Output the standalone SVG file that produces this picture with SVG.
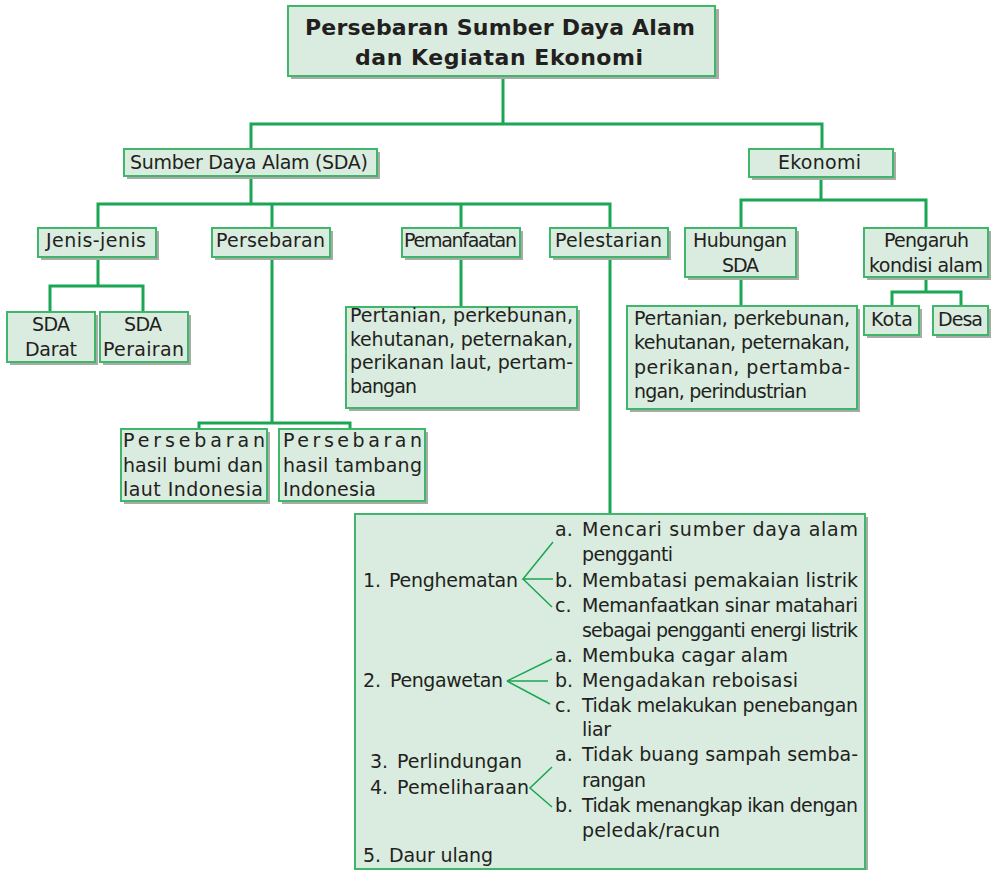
<svg xmlns="http://www.w3.org/2000/svg" width="992" height="870" viewBox="0 0 992 870">
<style>
.sh{fill:#a9aba9}
.bx{fill:#d9ecdf;stroke:#3fb669;stroke-width:2}
.t{font-family:"DejaVu Sans",sans-serif;font-size:19px;fill:#231f20}
.tt{font-family:"DejaVu Sans",sans-serif;font-size:22px;font-weight:bold;fill:#231f20}
.c{fill:none;stroke:#1aa652;stroke-width:3}
.br{fill:none;stroke:#1aa652;stroke-width:1.5}
</style>
<rect width="992" height="870" fill="#ffffff"/>
<g id="connectors">
<path class="c" d="M503 76V124M251 149V124H822V149"/>
<path class="c" d="M251 176V204M98 228V204H610V228M272 204V228M461 204V228"/>
<path class="c" d="M98 257V286M50 312V286H143V312"/>
<path class="c" d="M272 257V423M199 429V423H350V429"/>
<path class="c" d="M461 257V307"/>
<path class="c" d="M610 257V514"/>
<path class="c" d="M821 177V200M741 228V200H926V228"/>
<path class="c" d="M741 277V306"/>
<path class="c" d="M926 277V292M892 306V292H961V306"/>
</g>
<g id="title">
<rect class="sh" x="291" y="9" width="428" height="70"/>
<rect class="bx" x="288" y="6" width="427" height="70"/>
<text class="tt" x="305" y="35" textLength="390" lengthAdjust="spacing">Persebaran Sumber Daya Alam</text>
<text class="tt" x="355" y="65" textLength="288" lengthAdjust="spacing">dan Kegiatan Ekonomi</text>
</g>
<g id="sda">
<rect class="sh" x="127" y="152" width="253" height="27"/>
<rect class="bx" x="124" y="149" width="253" height="27"/>
<text class="t" x="130" y="169" textLength="238" lengthAdjust="spacing">Sumber Daya Alam (SDA)</text>
</g>
<g id="ekonomi">
<rect class="sh" x="752" y="152" width="144" height="28"/>
<rect class="bx" x="749" y="149" width="144" height="28"/>
<text class="t" x="778" y="169" textLength="83" lengthAdjust="spacing">Ekonomi</text>
</g>
<g id="jenis">
<rect class="sh" x="41" y="231" width="118" height="29"/>
<rect class="bx" x="38" y="228" width="118" height="29"/>
<text class="t" x="46" y="247" textLength="100" lengthAdjust="spacing">Jenis-jenis</text>
</g>
<g id="persebaran">
<rect class="sh" x="215" y="231" width="118" height="29"/>
<rect class="bx" x="212" y="228" width="118" height="29"/>
<text class="t" x="216" y="247" textLength="109" lengthAdjust="spacing">Persebaran</text>
</g>
<g id="pemanfaatan">
<rect class="sh" x="405" y="231" width="118" height="29"/>
<rect class="bx" x="402" y="228" width="118" height="29"/>
<text class="t" x="404" y="247" textLength="113" lengthAdjust="spacing">Pemanfaatan</text>
</g>
<g id="pelestarian">
<rect class="sh" x="553" y="231" width="118" height="29"/>
<rect class="bx" x="550" y="228" width="118" height="29"/>
<text class="t" x="555" y="247" textLength="107" lengthAdjust="spacing">Pelestarian</text>
</g>
<g id="hubungan">
<rect class="sh" x="688" y="231" width="111" height="49"/>
<rect class="bx" x="685" y="228" width="111" height="49"/>
<text class="t" x="693" y="247" textLength="94" lengthAdjust="spacing">Hubungan</text>
<text class="t" x="722" y="272" textLength="37" lengthAdjust="spacing">SDA</text>
</g>
<g id="pengaruh">
<rect class="sh" x="867" y="231" width="124" height="49"/>
<rect class="bx" x="864" y="228" width="124" height="49"/>
<text class="t" x="884" y="247" textLength="85" lengthAdjust="spacing">Pengaruh</text>
<text class="t" x="869" y="272" textLength="114" lengthAdjust="spacing">kondisi alam</text>
</g>
<g id="sda-darat">
<rect class="sh" x="10" y="315" width="88" height="50"/>
<rect class="bx" x="7" y="312" width="88" height="50"/>
<text class="t" x="32" y="331" textLength="38" lengthAdjust="spacing">SDA</text>
<text class="t" x="25" y="356" textLength="52" lengthAdjust="spacing">Darat</text>
</g>
<g id="sda-perairan">
<rect class="sh" x="103" y="315" width="88" height="50"/>
<rect class="bx" x="100" y="312" width="88" height="50"/>
<text class="t" x="124" y="331" textLength="38" lengthAdjust="spacing">SDA</text>
<text class="t" x="103" y="356" textLength="81" lengthAdjust="spacing">Perairan</text>
</g>
<g id="kota">
<rect class="sh" x="867" y="309" width="55" height="29"/>
<rect class="bx" x="864" y="306" width="55" height="29"/>
<text class="t" x="871" y="326" textLength="42" lengthAdjust="spacing">Kota</text>
</g>
<g id="desa">
<rect class="sh" x="936" y="309" width="55" height="29"/>
<rect class="bx" x="933" y="306" width="55" height="29"/>
<text class="t" x="938" y="326" textLength="45" lengthAdjust="spacing">Desa</text>
</g>
<g id="pemanfaatan-isi">
<rect class="sh" x="349" y="310" width="231" height="101"/>
<rect class="bx" x="346" y="307" width="231" height="101"/>
<text class="t" x="350" y="322" textLength="223" lengthAdjust="spacing">Pertanian, perkebunan,</text>
<text class="t" x="350" y="346" textLength="223" lengthAdjust="spacing">kehutanan, peternakan,</text>
<text class="t" x="350" y="369" textLength="223" lengthAdjust="spacing">perikanan laut, pertam-</text>
<text class="t" x="350" y="393" textLength="67" lengthAdjust="spacing">bangan</text>
</g>
<g id="hubungan-isi">
<rect class="sh" x="630" y="309" width="230" height="103"/>
<rect class="bx" x="627" y="306" width="230" height="103"/>
<text class="t" x="634" y="325" textLength="216" lengthAdjust="spacing">Pertanian, perkebunan,</text>
<text class="t" x="634" y="349" textLength="216" lengthAdjust="spacing">kehutanan, peternakan,</text>
<text class="t" x="634" y="374" textLength="216" lengthAdjust="spacing">perikanan,  pertamba-</text>
<text class="t" x="634" y="398" textLength="173" lengthAdjust="spacing">ngan, perindustrian</text>
</g>
<g id="persebaran-bumi">
<rect class="sh" x="124" y="432" width="146" height="72"/>
<rect class="bx" x="121" y="429" width="146" height="72"/>
<text class="t" x="123" y="447" textLength="142" lengthAdjust="spacing">Persebaran</text>
<text class="t" x="123" y="472" textLength="140" lengthAdjust="spacing">hasil bumi dan</text>
<text class="t" x="123" y="496" textLength="140" lengthAdjust="spacing">laut Indonesia</text>
</g>
<g id="persebaran-tambang">
<rect class="sh" x="282" y="432" width="146" height="72"/>
<rect class="bx" x="279" y="429" width="146" height="72"/>
<text class="t" x="283" y="447" textLength="139" lengthAdjust="spacing">Persebaran</text>
<text class="t" x="283" y="472" textLength="139" lengthAdjust="spacing">hasil tambang</text>
<text class="t" x="283" y="496" textLength="93" lengthAdjust="spacing">Indonesia</text>
</g>
<g id="pelestarian-isi">
<rect class="sh" x="358" y="517" width="510" height="360"/>
<rect class="bx" x="355" y="514" width="510" height="355"/>
<path class="br" d="M553 542L523 579L553 579M523 579L552 607"/>
<path class="br" d="M552 659L507 681L548 681M507 681L550 704"/>
<path class="br" d="M552 767L530 788L552 807"/>
<text class="t" x="363" y="587">1.</text>
<text class="t" x="389" y="587" textLength="129" lengthAdjust="spacing">Penghematan</text>
<text class="t" x="363" y="687">2.</text>
<text class="t" x="390" y="687" textLength="113" lengthAdjust="spacing">Pengawetan</text>
<text class="t" x="370" y="768">3.</text>
<text class="t" x="397" y="768" textLength="125" lengthAdjust="spacing">Perlindungan</text>
<text class="t" x="370" y="794">4.</text>
<text class="t" x="397" y="794" textLength="132" lengthAdjust="spacing">Pemeliharaan</text>
<text class="t" x="363" y="862">5.</text>
<text class="t" x="389" y="862" textLength="104" lengthAdjust="spacing">Daur ulang</text>
<text class="t" x="555" y="536">a.</text>
<text class="t" x="582" y="536" textLength="276" lengthAdjust="spacing">Mencari sumber daya alam</text>
<text class="t" x="582" y="561" textLength="91" lengthAdjust="spacing">pengganti</text>
<text class="t" x="555" y="587">b.</text>
<text class="t" x="582" y="587" textLength="276" lengthAdjust="spacing">Membatasi pemakaian listrik</text>
<text class="t" x="555" y="612">c.</text>
<text class="t" x="582" y="612" textLength="276" lengthAdjust="spacing">Memanfaatkan sinar matahari</text>
<text class="t" x="582" y="637" textLength="276" lengthAdjust="spacing">sebagai pengganti energi listrik</text>
<text class="t" x="555" y="662">a.</text>
<text class="t" x="582" y="662" textLength="206" lengthAdjust="spacing">Membuka cagar alam</text>
<text class="t" x="555" y="687">b.</text>
<text class="t" x="582" y="687" textLength="216" lengthAdjust="spacing">Mengadakan reboisasi</text>
<text class="t" x="555" y="712">c.</text>
<text class="t" x="582" y="712" textLength="276" lengthAdjust="spacing">Tidak melakukan penebangan</text>
<text class="t" x="582" y="736" textLength="29" lengthAdjust="spacing">liar</text>
<text class="t" x="555" y="761">a.</text>
<text class="t" x="582" y="761" textLength="276" lengthAdjust="spacing">Tidak buang sampah semba-</text>
<text class="t" x="582" y="787" textLength="64" lengthAdjust="spacing">rangan</text>
<text class="t" x="555" y="812">b.</text>
<text class="t" x="582" y="812" textLength="276" lengthAdjust="spacing">Tidak menangkap ikan dengan</text>
<text class="t" x="582" y="837" textLength="138" lengthAdjust="spacing">peledak/racun</text>
</g>
</svg>
